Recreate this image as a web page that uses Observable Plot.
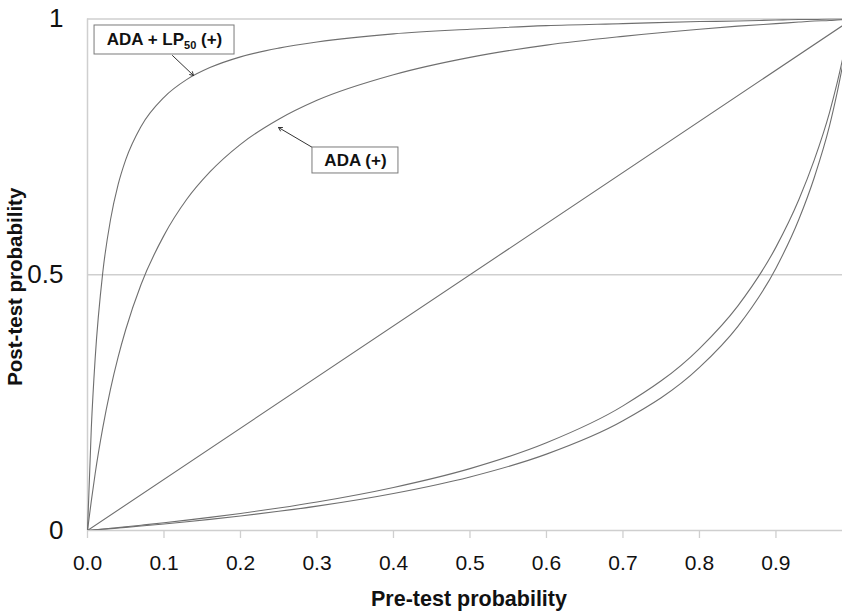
<!DOCTYPE html>
<html><head><meta charset="utf-8">
<script src="https://cdn.jsdelivr.net/npm/d3@7"></script>
<script src="https://cdn.jsdelivr.net/npm/@observablehq/plot@0.6"></script>
<style>html,body{margin:0;padding:0;background:#fff;overflow:hidden}</style>
</head><body><div id="chart"></div>
<script>
// Pre-test probability (x) sample points
const preTest = [0,0.005,0.01,0.02,0.03,0.04,0.05,0.07,0.1,0.13,0.16,0.2,0.25,0.3,0.4,0.5,0.6,0.7,0.8,0.85,0.9,0.93,0.95,0.97,0.98,0.99,1];
// Post-test probability for each curve
const adaLp50Pos = [0,0.201,0.336,0.505,0.607,0.676,0.725,0.790,0.847,0.882,0.905,0.926,0.943,0.955,0.971,0.980,0.987,0.991,0.995,0.996,0.998,0.999,0.999,1,1,1,1];
const adaPos = [0,0.058,0.111,0.201,0.276,0.339,0.393,0.481,0.577,0.648,0.701,0.755,0.804,0.841,0.891,0.925,0.949,0.966,0.980,0.986,0.991,0.994,0.996,0.997,0.998,0.999,1];
const negUpper = [0,0.0007,0.0014,0.0028,0.0043,0.0057,0.0072,0.0103,0.0151,0.0202,0.0256,0.0333,0.044,0.0558,0.0842,0.121,0.1715,0.2436,0.3557,0.4388,0.554,0.647,0.724,0.817,0.875,0.94,1];
const negLower = [0,0.0006,0.0012,0.0024,0.0036,0.0049,0.0061,0.0087,0.0128,0.0172,0.0218,0.0284,0.0375,0.0477,0.0724,0.1047,0.1493,0.2145,0.3188,0.3987,0.5129,0.6085,0.6897,0.7909,0.856,0.93,1];
const diagonalX = [0, 1];
const diagonalY = [0, 1];

const xTicks = [0,0.1,0.2,0.3,0.4,0.5,0.6,0.7,0.8,0.9];
const xTickLabels = ["0.0","0.1","0.2","0.3","0.4","0.5","0.6","0.7","0.8","0.9"];
const yTicks = [0,0.5,1];
const yTickLabels = ["0","0.5","1"];
const gridValues = [0.5, 1];
const xTitle = "Pre-test probability";
const yTitle = "Post-test probability";

// Annotation callouts (data units)
const callouts = [
  {label:"ADA + LP50 (+)", tx:0.1007, ty:0.959, bx1:0.0092, bx2:0.1922, by1:0.9306, by2:0.9873, ax1:0.1111, ay1:0.9286, ax2:0.1386, ay2:0.8895},
  {label:"ADA (+)", tx:0.3503, ty:0.7234, bx1:0.2941, bx2:0.4065, by1:0.698, by2:0.7488, ax1:0.2941, ay1:0.7488, ax2:0.2497, ay2:0.7879}
];

const table = [];
const addSeries = (name, xs, ys) => xs.forEach((x, i) => table.push({series:name, x, y:ys[i]}));
addSeries("ADA + LP50 (+)", preTest, adaLp50Pos);
addSeries("ADA (+)", preTest, adaPos);
addSeries("neg1", preTest, negUpper);
addSeries("neg2", preTest, negLower);
addSeries("diag", diagonalX, diagonalY);

const gridColor = "#cfcfcf";
const chart = Plot.plot({
  width: 842, height: 612,
  marginLeft: 87, marginRight: 0, marginTop: 18.5, marginBottom: 82,
  x: {domain: [0, 0.987]},
  y: {domain: [0, 1]},
  style: {fontFamily: "'Liberation Sans', Arial, sans-serif", background: "white", color: "#111"},
  marks: [
    Plot.ruleY(gridValues, {stroke: gridColor, strokeWidth: 1.3}),
    Plot.ruleX([0], {stroke: gridColor, strokeWidth: 1.5}),
    Plot.ruleY([0], {stroke: gridColor, strokeWidth: 1.5}),
    Plot.axisX({ticks: xTicks, tickFormat: d => xTickLabels[xTicks.indexOf(d)], tickSize: 8, tickPadding: 17, fontSize: 21, stroke: gridColor, strokeWidth: 1.3, label: null}),
    Plot.axisY({ticks: yTicks, tickFormat: d => yTickLabels[yTicks.indexOf(d)], tickSize: 0, tickPadding: 24, fontSize: 26, label: null}),
    Plot.line(table, {x: "x", y: "y", z: "series", stroke: "#6f6f6f", strokeWidth: 1.1, curve: "monotone-x", clip: true}),
    Plot.arrow(callouts, {x1: "ax1", y1: "ay1", x2: "ax2", y2: "ay2", stroke: "#333", strokeWidth: 1, headLength: 6}),
    Plot.rect(callouts, {x1: "bx1", x2: "bx2", y1: "by1", y2: "by2", fill: "white", stroke: "#7a7a7a", strokeWidth: 1}),
    Plot.text(callouts, {x: "tx", y: "ty", text: "label", fontWeight: "bold", fontSize: 17, fill: "#111"}),
    Plot.text([xTitle], {frameAnchor: "bottom", lineAnchor: "middle", textAnchor: "middle", dx: 4, dy: 68.5, fontWeight: "bold", fontSize: 21.5, fill: "#111"}),
    Plot.text([yTitle], {frameAnchor: "left", lineAnchor: "middle", textAnchor: "middle", rotate: -90, dx: -72, dy: 12, fontWeight: "bold", fontSize: 20.5, fill: "#111"})
  ]
});
document.getElementById("chart").appendChild(chart);

// subscript for LP50
d3.select(chart).selectAll("text").filter(function(){ return this.textContent === "ADA + LP50 (+)"; })
  .each(function(){
    const t = d3.select(this);
    t.text(null);
    t.append("tspan").text("ADA + LP");
    t.append("tspan").attr("font-size", 11).attr("dy", 4).text("50");
    t.append("tspan").attr("dy", -4).text(" (+)");
  });
</script>
</body></html>
